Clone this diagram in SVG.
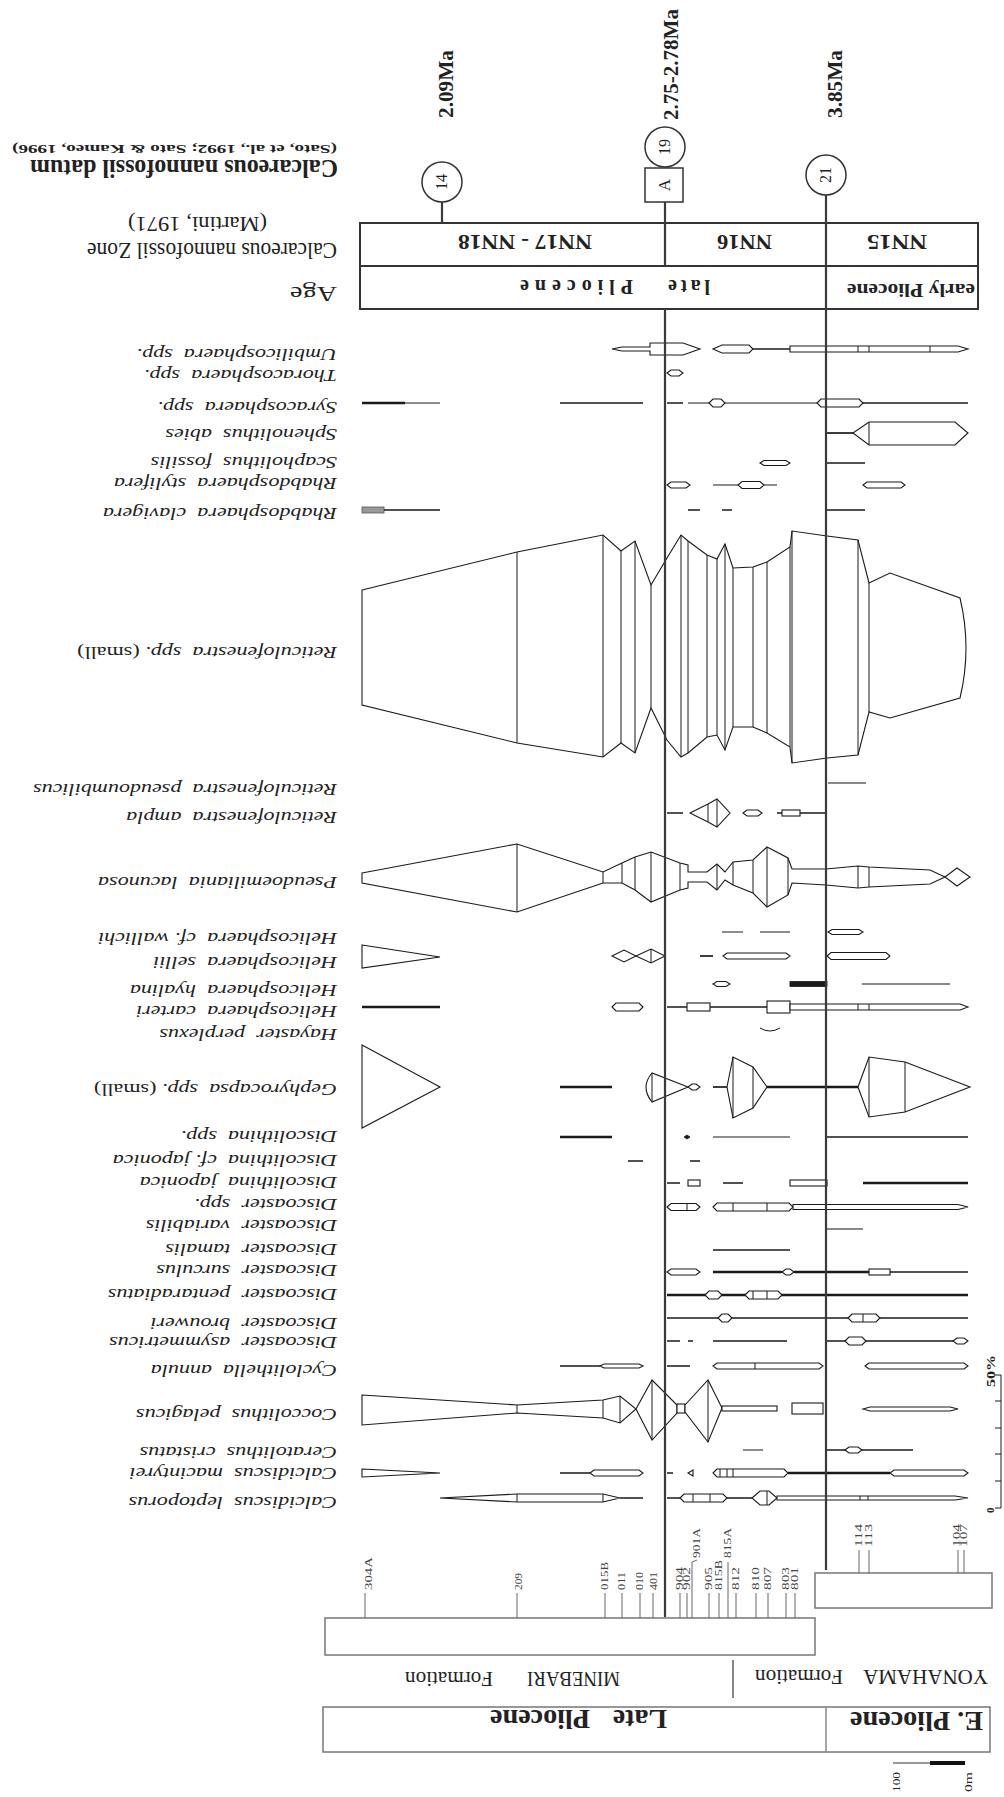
<svg xmlns="http://www.w3.org/2000/svg" width="1004" height="1797" viewBox="0 0 1004 1797">
<style>
.o{fill:#fff;stroke:#1a1a1a;stroke-width:1.1}
.k{fill:none;stroke:#1a1a1a;stroke-width:1.7}
.kk{fill:none;stroke:#1a1a1a;stroke-width:2.5}
.n{fill:none;stroke:#1a1a1a;stroke-width:1}
.gr{fill:none;stroke:#888;stroke-width:1.8}
.f{fill:#1a1a1a;stroke:#1a1a1a;stroke-width:0.8}
.lab{font-family:"Liberation Serif",serif;font-style:italic;font-size:16px;fill:#222}
.hd{font-family:"Liberation Serif",serif;fill:#222}
.b{font-weight:bold}
.dl{stroke:#3a3a3a;stroke-width:2.2;fill:none}
.box{fill:#fff;stroke:#333;stroke-width:2}
.gb{fill:#fff;stroke:#777;stroke-width:1.5}
.tk{stroke:#666;stroke-width:1;fill:none}
.sn{font-family:"Liberation Serif",serif;font-size:10px;fill:#444}
</style>
<rect x="0" y="0" width="1004" height="1797" fill="#fff"/>

<!-- header -->
<g id="header-titles">
<text class="hd b" font-size="13" transform="translate(337 145) rotate(180)" textLength="325" lengthAdjust="spacingAndGlyphs">(Sato, et al., 1992; Sato &amp; Kameo, 1996)</text>
<text class="hd b" font-size="25" transform="translate(338 160) rotate(180)" textLength="308" lengthAdjust="spacingAndGlyphs">Calcareous nannofossil datum</text>
<text class="hd" font-size="21" transform="translate(267 217) rotate(180)" textLength="139" lengthAdjust="spacingAndGlyphs">(Martini, 1971)</text>
<text class="hd" font-size="23" transform="translate(337 243) rotate(180)" textLength="250" lengthAdjust="spacingAndGlyphs">Calcareous nannofossil Zone</text>
<text class="hd" font-size="20" transform="translate(337 287) rotate(180)" textLength="47" lengthAdjust="spacingAndGlyphs">Age</text>
</g>

<g id="age-zone-table">
<rect class="box" x="360" y="223" width="618" height="86"/>
<line x1="360" y1="266" x2="978" y2="266" stroke="#333" stroke-width="2"/>
<text class="hd b" font-size="22" transform="translate(592 235) rotate(180)" textLength="134" lengthAdjust="spacingAndGlyphs">NN17 - NN18</text>
<text class="hd b" font-size="22" transform="translate(772 235) rotate(180)" textLength="55" lengthAdjust="spacingAndGlyphs">NN16</text>
<text class="hd b" font-size="22" transform="translate(927 235) rotate(180)" textLength="60" lengthAdjust="spacingAndGlyphs">NN15</text>
<text class="hd b" font-size="20" transform="translate(710 280) rotate(180)" textLength="42" lengthAdjust="spacing">late</text>
<text class="hd b" font-size="20" transform="translate(633 280) rotate(180)" textLength="113" lengthAdjust="spacing">Pliocene</text>
<text class="hd b" font-size="18" transform="translate(975 284) rotate(180)" textLength="128" lengthAdjust="spacingAndGlyphs">early Pliocene</text>
</g>

<g id="datum-14">
<circle cx="442" cy="182" r="20" fill="#fff" stroke="#333" stroke-width="1.5"/>
<text class="hd" font-size="16" text-anchor="middle" transform="translate(447 182) rotate(-90)">14</text>
<text class="hd b" font-size="21" transform="translate(453 118) rotate(-90)" textLength="68" lengthAdjust="spacingAndGlyphs">2.09Ma</text>
</g>
<g id="datum-19A">
<circle cx="665" cy="147" r="20" fill="#fff" stroke="#333" stroke-width="1.5"/>
<text class="hd" font-size="16" text-anchor="middle" transform="translate(670 147) rotate(-90)">19</text>
<rect x="645" y="168" width="38" height="34" fill="#fff" stroke="#333" stroke-width="1.5"/>
<text class="hd" font-size="17" text-anchor="middle" transform="translate(670 185) rotate(-90)">A</text>
<text class="hd b" font-size="21" transform="translate(678 120) rotate(-90)" textLength="111" lengthAdjust="spacingAndGlyphs">2.75-2.78Ma</text>
</g>
<g id="datum-21">
<circle cx="826" cy="175" r="20" fill="#fff" stroke="#333" stroke-width="1.5"/>
<text class="hd" font-size="16" text-anchor="middle" transform="translate(831 175) rotate(-90)">21</text>
<text class="hd b" font-size="21" transform="translate(842 118) rotate(-90)" textLength="68" lengthAdjust="spacingAndGlyphs">3.85Ma</text>
</g>

<!-- species rows -->
<g id="sp-umbilicosphaera">
<text class="lab" transform="translate(337 348.5) rotate(180) scale(1.38 1)">Umbilicosphaera&#160; spp.</text>
<path class="o" d="M612 349 L622 347 H650 V343 H683 L700 349 L683 355 H650 V351 H622 Z"/>
<path class="n" d="M665 343V355"/>
<path class="o" d="M713 349 L722 345 H749 L753 349 L749 353 H722 Z"/>
<path class="k" d="M753 349H790"/>
<path class="o" d="M790 346 H958 L968 349 L958 352 H790 Z"/>
<path class="n" d="M858 346V352M869 346V352M930 346V352"/>
</g>
<g id="sp-thoracosphaera">
<text class="lab" transform="translate(337 369.5) rotate(180) scale(1.38 1)">Thoracosphaera&#160; spp.</text>
<path class="o" d="M667 373 L671 370 H679 L683 373 L679 376 H671 Z"/>
</g>
<g id="sp-syracosphaera">
<text class="lab" transform="translate(337 401.5) rotate(180) scale(1.38 1)">Syracosphaera&#160; spp.</text>
<path class="kk" d="M362 403H405"/><path class="n" d="M405 403H440"/>
<path class="k" d="M560 403H643M667 403H683"/>
<path class="n" d="M688 403H817"/>
<path class="o" d="M709 403 L713 399 H721 L725 403 L721 407 H713 Z"/>
<path class="o" d="M817 403 L821 399 H859 L863 403 L859 407 H821 Z"/>
<path class="k" d="M863 403H968"/>
</g>
<g id="sp-sphenolithus">
<text class="lab" transform="translate(337 428.5) rotate(180) scale(1.38 1)">Sphenolithus&#160; abies</text>
<path class="k" d="M826 433H853"/>
<path class="o" d="M853 433 L869 422 H955 L968 433 L955 445 H869 Z"/>
<path class="n" d="M869 422V445"/>
</g>
<g id="sp-scapholithus">
<text class="lab" transform="translate(337 456.5) rotate(180) scale(1.38 1)">Scapholithus&#160; fossilis</text>
<path class="o" d="M760 463 L764 460.5 H786 L790 463 L786 465.5 H764 Z"/>
<path class="k" d="M826 463H865"/>
</g>
<g id="sp-rh-stylifera">
<text class="lab" transform="translate(337 477.5) rotate(180) scale(1.38 1)">Rhabdosphaera&#160; stylifera</text>
<path class="o" d="M667 485 L671 482 H686 L690 485 L686 488 H671 Z"/>
<path class="n" d="M713 485H777"/>
<path class="o" d="M738 485 L742 481.5 H760 L764 485 L760 488.5 H742 Z"/>
<path class="o" d="M863 485 L867 482 H901 L905 485 L901 488 H867 Z"/>
</g>
<g id="sp-rh-clavigera">
<text class="lab" transform="translate(337 507.5) rotate(180) scale(1.38 1)">Rhabdosphaera&#160; clavigera</text>
<rect x="362" y="507" width="22" height="6" fill="#999" stroke="#555" stroke-width="0.8"/>
<path class="k" d="M384 510H440M688 510H700M722 510H732M826 510H865"/>
</g>
<g id="sp-reticulofenestra-small">
<text class="lab" transform="translate(337 646.5) rotate(180) scale(1.38 1)">Reticulofenestra&#160; spp. <tspan font-style="normal">(small)</tspan></text>
<path class="o" d="M362 590 L517 552 L603 535 L621 551 L635 541 L651 585 L667 558 L681 535 L688 541 L707 555 L717 559 L725 544 L733 568 L753 567 L767 562 L790 547 L792 531 L827 536 L858 540 L869 583 L890 573 L960 598 Q972 648 960 698 L890 718 L869 712 L858 755 L827 758 L792 763 L790 747 L767 733 L753 727 L733 727 L725 750 L717 735 L707 737 L688 753 L681 757 L667 740 L651 708 L635 753 L621 743 L603 757 L517 743 L362 705 Z"/>
<path class="n" d="M517 552V743M603 535V757M621 551V743M635 541V753M651 585V708M681 535V757M688 541V753M707 555V737M717 559V735M725 544V750M733 568V727M753 567V727M767 562V733M790 547V747M792 531V763M858 540V755M869 583V712"/>
</g>
<g id="sp-r-pseudoumbilicus">
<text class="lab" transform="translate(337 783.5) rotate(180) scale(1.38 1)">Reticulofenestra&#160; pseudoumbilicus</text>
<path class="gr" d="M828 783H866"/>
</g>
<g id="sp-r-ampla">
<text class="lab" transform="translate(337 811.5) rotate(180) scale(1.38 1)">Reticulofenestra&#160; ampla</text>
<path class="k" d="M667 813H683M777 813H826"/>
<path class="o" d="M690 813 L708 804 L717 799 L730 813 L717 827 L708 822 Z"/>
<path class="n" d="M708 804V822M717 799V827"/>
<path class="o" d="M743 813 L747 810 H758 L762 813 L758 816 H747 Z"/>
<rect class="o" x="782" y="810" width="18" height="6"/>
</g>
<g id="sp-pseudoemiliania">
<text class="lab" transform="translate(337 876.5) rotate(180) scale(1.38 1)">Pseudoemiliania&#160; lacunosa</text>
<path class="o" d="M362 873 L517 844 L603 872 L622 863 L635 857 L651 852 L680 863 L688 865 L688 872 L707 872 L717 864 L725 872 L733 862 L753 860 L767 847 L788 858 L792 869 L826 869 L858 866 L869 867 L930 870 L945 877 L930 884 L869 887 L858 888 L826 885 L792 883 L788 895 L767 907 L753 893 L733 885 L725 880 L717 890 L707 882 L688 882 L688 888 L680 890 L651 902 L635 890 L622 883 L603 883 L517 912 L362 883 Z"/>
<path class="n" d="M517 844V912M603 872V883M622 863V883M635 857V890M651 852V902M680 863V890M717 864V890M733 862V885M753 860V893M767 847V907M788 858V895M858 866V888M869 867V887"/>
<path class="o" d="M945 877 L957 868 L970 877 L957 886 Z"/>
</g>
<g id="sp-h-wallichi">
<text class="lab" transform="translate(337 932.5) rotate(180) scale(1.38 1)">Helicosphaera&#160; cf. wallichi</text>
<path class="n" d="M722 932H743M760 932H790"/>
<path class="o" d="M828 932 L832 929.5 H859 L863 932 L859 934.5 H832 Z"/>
</g>
<g id="sp-h-sellii">
<text class="lab" transform="translate(337 956.5) rotate(180) scale(1.38 1)">Helicosphaera&#160; sellii</text>
<path class="o" d="M362 945 L440 957 L362 968 Z"/>
<path class="o" d="M612 956 L624 950 L636 956 L624 962 Z"/>
<path class="o" d="M636 956 L651 949 L665 956 L651 963 Z"/>
<path class="n" d="M651 949V963"/>
<path class="k" d="M700 956H713"/>
<path class="o" d="M723 956 L727 953 H786 L790 956 L786 959 H727 Z"/>
<path class="o" d="M827 956 L831 952.5 H886 L890 956 L886 959.5 H831 Z"/>
</g>
<g id="sp-h-hyalina">
<text class="lab" transform="translate(337 984.5) rotate(180) scale(1.38 1)">Helicosphaera&#160; hyalina</text>
<path class="o" d="M713 984 L717 981.5 H726 L730 984 L726 986.5 H717 Z"/>
<rect class="f" x="790" y="981.5" width="37" height="5"/>
<path class="gr" d="M862 984H950"/>
</g>
<g id="sp-h-carteri">
<text class="lab" transform="translate(337 1005.5) rotate(180) scale(1.38 1)">Helicosphaera&#160; carteri</text>
<path class="kk" d="M362 1007H440"/>
<path class="o" d="M612 1007 L616 1003 H639 L643 1007 L639 1011 H616 Z"/>
<path class="k" d="M667 1007H687M710 1007H767"/>
<rect class="o" x="687" y="1003" width="23" height="8"/>
<rect class="o" x="767" y="1001" width="23" height="12"/>
<path class="o" d="M790 1004 H960 L968 1007 L960 1010 H790 Z"/>
<path class="n" d="M858 1004V1010M869 1004V1010"/>
</g>
<g id="sp-hayaster">
<text class="lab" transform="translate(337 1028.5) rotate(180) scale(1.38 1)">Hayaster&#160; perplexus</text>
<path class="n" d="M760 1028 Q770 1034 780 1028"/>
</g>
<g id="sp-gephyrocapsa">
<text class="lab" transform="translate(337 1083.5) rotate(180) scale(1.38 1)">Gephyrocapsa&#160; spp. <tspan font-style="normal">(small)</tspan></text>
<path class="o" d="M362 1045 L440 1087 L362 1128 Z"/>
<path class="kk" d="M560 1087H612M767 1087H858"/>
<path class="o" d="M688 1087 L652 1073 Q640 1087 652 1102 Z"/>
<path class="n" d="M652 1073V1102"/>
<path class="o" d="M688 1087 L692 1084 H696 L700 1087 L696 1090 H692 Z"/>
<path class="k" d="M713 1087H727"/>
<path class="o" d="M727 1087 L733 1057 L753 1067 L767 1087 L753 1108 L733 1118 Z"/>
<path class="n" d="M733 1057V1118M753 1067V1108"/>
<path class="o" d="M858 1087 L869 1057 L905 1062 L970 1087 L905 1112 L869 1117 Z"/>
<path class="n" d="M869 1057V1117M905 1062V1112"/>
</g>
<g id="sp-discolithina-spp">
<text class="lab" transform="translate(337 1130.5) rotate(180) scale(1.38 1)">Discolithina&#160; spp.</text>
<path class="kk" d="M560 1137H612"/>
<path class="f" d="M684 1137 L687 1135 L690 1137 L687 1139 Z"/>
<path class="n" d="M713 1137H790"/>
<path class="k" d="M826 1137H968"/>
</g>
<g id="sp-discolithina-cf-japonica">
<text class="lab" transform="translate(337 1154.5) rotate(180) scale(1.38 1)">Discolithina&#160; cf. japonica</text>
<path class="k" d="M628 1161H643M690 1161H700"/>
</g>
<g id="sp-discolithina-japonica">
<text class="lab" transform="translate(337 1176.5) rotate(180) scale(1.38 1)">Discolithina&#160; japonica</text>
<path class="k" d="M667 1183H680M723 1183H743"/>
<rect class="o" x="688" y="1180" width="12" height="6"/>
<rect class="o" x="790" y="1180" width="37" height="6"/>
<path class="kk" d="M863 1183H968"/>
</g>
<g id="sp-discoaster-spp">
<text class="lab" transform="translate(337 1198.5) rotate(180) scale(1.38 1)">Discoaster&#160; spp.</text>
<path class="o" d="M667 1207 L671 1203.5 H696 L700 1207 L696 1210.5 H671 Z"/>
<path class="n" d="M687 1203.5V1210.5"/>
<path class="o" d="M713 1207 L717 1203 H789 L793 1207 L789 1211 H717 Z"/>
<path class="n" d="M733 1203V1211M767 1203V1211"/>
<path class="o" d="M793 1204.5 H958 L968 1207 L958 1209.5 H793 Z"/>
</g>
<g id="sp-d-variabilis">
<text class="lab" transform="translate(337 1219.5) rotate(180) scale(1.38 1)">Discoaster&#160; variabilis</text>
<path class="gr" d="M827 1229H863"/>
</g>
<g id="sp-d-tamalis">
<text class="lab" transform="translate(337 1243.5) rotate(180) scale(1.38 1)">Discoaster&#160; tamalis</text>
<path class="k" d="M713 1250H790"/>
</g>
<g id="sp-d-surculus">
<text class="lab" transform="translate(337 1264.5) rotate(180) scale(1.38 1)">Discoaster&#160; surculus</text>
<path class="o" d="M667 1272 L671 1269 H696 L700 1272 L696 1275 H671 Z"/>
<path class="kk" d="M713 1272H782M794 1272H869"/>
<path class="o" d="M782 1272 L786 1269 H790 L794 1272 L790 1275 H786 Z"/>
<rect class="o" x="869" y="1269" width="21" height="6"/>
<path class="k" d="M890 1272H968"/>
</g>
<g id="sp-d-pentaradiatus">
<text class="lab" transform="translate(337 1288.5) rotate(180) scale(1.38 1)">Discoaster&#160; pentaradiatus</text>
<path class="kk" d="M667 1295H968"/>
<path class="o" d="M705 1295 L709 1291 H718 L722 1295 L718 1299 H709 Z"/>
<path class="o" d="M745 1295 L749 1291 H778 L782 1295 L778 1299 H749 Z"/>
<path class="n" d="M753 1291V1299M767 1291V1299"/>
</g>
<g id="sp-d-brouweri">
<text class="lab" transform="translate(337 1317.5) rotate(180) scale(1.38 1)">Discoaster&#160; brouweri</text>
<path class="k" d="M667 1318H968"/>
<path class="o" d="M718 1318 L722 1314 H728 L732 1318 L728 1322 H722 Z"/>
<path class="o" d="M848 1318 L852 1314 H876 L880 1318 L876 1322 H852 Z"/>
<path class="n" d="M863 1314V1322"/>
</g>
<g id="sp-d-asymmetricus">
<text class="lab" transform="translate(337 1336.5) rotate(180) scale(1.38 1)">Discoaster&#160; asymmetricus</text>
<path class="k" d="M667 1341H680M688 1341H693M713 1341H787M826 1341H968"/>
<path class="o" d="M845 1341 L849 1337 H862 L866 1341 L862 1345 H849 Z"/>
<path class="o" d="M953 1341 L957 1338 H964 L968 1341 L964 1344 H957 Z"/>
</g>
<g id="sp-cyclolithella">
<text class="lab" transform="translate(337 1364.5) rotate(180) scale(1.38 1)">Cyclolithella&#160; annula</text>
<path class="k" d="M560 1366H600M667 1366H690"/>
<path class="o" d="M600 1366 L604 1364 H639 L643 1366 L639 1368 H604 Z"/>
<path class="o" d="M713 1366 L717 1363 H819 L823 1366 L819 1369 H717 Z"/>
<path class="n" d="M755 1363V1369"/>
<path class="o" d="M865 1366 L869 1363 H964 L968 1366 L964 1369 H869 Z"/>
</g>
<g id="sp-coccolithus">
<text class="lab" transform="translate(337 1408.5) rotate(180) scale(1.38 1)">Coccolithus&#160; pelagicus</text>
<path class="o" d="M362 1395 L517 1405 L603 1400 L620 1396 L636 1409 L620 1423 L603 1418 L517 1413 L362 1425 Z"/>
<path class="n" d="M517 1405V1413M603 1400V1418M620 1396V1423"/>
<path class="o" d="M636 1409 L652 1380 L677 1405 L677 1413 L652 1440 Z"/>
<path class="n" d="M652 1380V1440"/>
<rect class="o" x="677" y="1404" width="8" height="9"/>
<path class="o" d="M685 1405 L708 1380 L722 1408 L708 1442 L685 1412 Z"/>
<path class="n" d="M708 1380V1442"/>
<rect class="o" x="722" y="1406" width="55" height="5"/>
<rect class="o" x="792" y="1403" width="31" height="11"/>
<path class="o" d="M863 1409 L870 1407 H950 L958 1409 L950 1411 H870 Z"/>
</g>
<g id="sp-ceratolithus">
<text class="lab" transform="translate(337 1446.5) rotate(180) scale(1.38 1)">Ceratolithus&#160; cristatus</text>
<path class="n" d="M743 1450H763"/>
<path class="k" d="M826 1450H913"/>
<path class="o" d="M845 1450 L849 1447 H858 L862 1450 L858 1453 H849 Z"/>
</g>
<g id="sp-c-macintyrei">
<text class="lab" transform="translate(337 1467.5) rotate(180) scale(1.38 1)">Calcidiscus&#160; macintyrei</text>
<path class="o" d="M362 1469 L440 1473 L362 1477 Z"/>
<path class="k" d="M560 1473H590M667 1473H673"/>
<path class="o" d="M590 1473 L594 1470 H639 L643 1473 L639 1476 H594 Z"/>
<path class="o" d="M688 1473 L693 1470 V1476 Z"/>
<path class="o" d="M713 1473 L717 1469 H784 L788 1473 L784 1477 H717 Z"/>
<path class="n" d="M720 1469V1477M727 1469V1477M733 1469V1477"/>
<path class="kk" d="M788 1473H890"/>
<path class="o" d="M890 1473 L894 1470 H964 L968 1473 L964 1476 H894 Z"/>
</g>
<g id="sp-c-leptoporus">
<text class="lab" transform="translate(337 1496.5) rotate(180) scale(1.38 1)">Calcidiscus&#160; leptoporus</text>
<path class="o" d="M440 1498 L517 1494 H603 L620 1498 L603 1502 H517 Z"/>
<path class="n" d="M517 1494V1502M603 1494V1502"/>
<path class="k" d="M620 1498H643M667 1498H680M727 1498H752"/>
<path class="o" d="M680 1498 L684 1494 H723 L727 1498 L723 1502 H684 Z"/>
<path class="n" d="M693 1494V1502M710 1494V1502"/>
<path class="o" d="M752 1498 L760 1491 H769 L777 1498 L769 1505 H760 Z"/>
<path class="n" d="M767 1491V1505"/>
<path class="o" d="M777 1496 H955 L968 1498 L955 1500 H777 Z"/>
<path class="n" d="M860 1496V1500M868 1496V1500"/>
</g>

<!-- percentage ruler -->
<g id="ruler">
<path class="n" d="M1001 1375V1508M995 1375H1001M995 1401H1001M995 1428H1001M995 1454H1001M995 1481H1001M995 1508H1001"/>
<text class="hd b" font-size="12" transform="translate(995 1387) rotate(-90)" textLength="32" lengthAdjust="spacingAndGlyphs">50%</text>
<text class="hd b" font-size="11" transform="translate(994 1513) rotate(-90)">0</text>
</g>

<!-- sample boxes -->
<g id="minebari-samples">
<rect class="gb" x="325" y="1618" width="490" height="37"/>
<g class="sn">
<text transform="translate(372 1590) rotate(-90)" textLength="33" lengthAdjust="spacingAndGlyphs">304A</text>
<text transform="translate(522 1590) rotate(-90)" textLength="17" lengthAdjust="spacingAndGlyphs">209</text>
<text transform="translate(608 1590) rotate(-90)" textLength="28" lengthAdjust="spacingAndGlyphs">015B</text>
<text transform="translate(625 1590) rotate(-90)" textLength="18" lengthAdjust="spacingAndGlyphs">011</text>
<text transform="translate(643 1590) rotate(-90)" textLength="18" lengthAdjust="spacingAndGlyphs">010</text>
<text transform="translate(657 1590) rotate(-90)" textLength="18" lengthAdjust="spacingAndGlyphs">401</text>
<text transform="translate(683 1590) rotate(-90)" textLength="23" lengthAdjust="spacingAndGlyphs">904</text>
<text transform="translate(690 1590) rotate(-90)" textLength="23" lengthAdjust="spacingAndGlyphs">902</text>
<text transform="translate(700 1558) rotate(-90)" textLength="30" lengthAdjust="spacingAndGlyphs">901A</text>
<text transform="translate(712 1590) rotate(-90)" textLength="23" lengthAdjust="spacingAndGlyphs">905</text>
<text transform="translate(722 1590) rotate(-90)" textLength="30" lengthAdjust="spacingAndGlyphs">815B</text>
<text transform="translate(731 1558) rotate(-90)" textLength="30" lengthAdjust="spacingAndGlyphs">815A</text>
<text transform="translate(739 1590) rotate(-90)" textLength="23" lengthAdjust="spacingAndGlyphs">812</text>
<text transform="translate(759 1590) rotate(-90)" textLength="23" lengthAdjust="spacingAndGlyphs">810</text>
<text transform="translate(771 1590) rotate(-90)" textLength="23" lengthAdjust="spacingAndGlyphs">807</text>
<text transform="translate(789 1590) rotate(-90)" textLength="23" lengthAdjust="spacingAndGlyphs">803</text>
<text transform="translate(798 1590) rotate(-90)" textLength="23" lengthAdjust="spacingAndGlyphs">801</text>
</g>
</g>
<g id="yonahama-samples">
<rect class="gb" x="815" y="1573" width="177" height="35"/>
<g class="sn">
<text transform="translate(862 1547) rotate(-90)" textLength="23" lengthAdjust="spacingAndGlyphs">114</text>
<text transform="translate(872 1547) rotate(-90)" textLength="23" lengthAdjust="spacingAndGlyphs">113</text>
<text transform="translate(960 1547) rotate(-90)" textLength="23" lengthAdjust="spacingAndGlyphs">104</text>
<text transform="translate(967 1547) rotate(-90)" textLength="23" lengthAdjust="spacingAndGlyphs">107</text>
</g>
</g>

<g id="formations">
<text class="hd" font-size="22" transform="translate(620 1672) rotate(180)" textLength="93" lengthAdjust="spacingAndGlyphs">MINEBARI</text>
<text class="hd" font-size="22" transform="translate(493 1672) rotate(180)" textLength="88" lengthAdjust="spacingAndGlyphs">Formation</text>
<text class="hd" font-size="22" transform="translate(988 1670) rotate(180)" textLength="125" lengthAdjust="spacingAndGlyphs">YONAHAMA</text>
<text class="hd" font-size="22" transform="translate(843 1670) rotate(180)" textLength="88" lengthAdjust="spacingAndGlyphs">Formation</text>
<line x1="733" y1="1660" x2="733" y2="1698" stroke="#888" stroke-width="2"/>
</g>

<g id="epoch-bottom">
<rect class="gb" x="323" y="1707" width="667" height="45"/>
<line x1="826" y1="1707" x2="826" y2="1752" stroke="#888" stroke-width="1.5"/>
<text class="hd b" font-size="28" transform="translate(667 1710) rotate(180)" textLength="54" lengthAdjust="spacingAndGlyphs">Late</text>
<text class="hd b" font-size="28" transform="translate(590 1710) rotate(180)" textLength="100" lengthAdjust="spacingAndGlyphs">Pliocene</text>
<text class="hd b" font-size="28" transform="translate(983 1712) rotate(180)" textLength="133" lengthAdjust="spacingAndGlyphs">E. Pliocene</text>
</g>

<g id="scale-bar">
<line x1="893" y1="1763" x2="930" y2="1763" stroke="#999" stroke-width="2"/>
<line x1="930" y1="1763" x2="965" y2="1763" stroke="#111" stroke-width="4"/>
<text class="hd" font-size="11" transform="translate(900 1792) rotate(-90)" textLength="20" lengthAdjust="spacingAndGlyphs">100</text>
<text class="hd" font-size="11" transform="translate(972 1792) rotate(-90)" textLength="20" lengthAdjust="spacingAndGlyphs">0m</text>
</g>

<!-- connectors: datum lines and sample ticks -->
<g id="connectors">
<path class="dl" d="M442 202V223"/>
<path class="dl" d="M665 202V266M665 309V1617"/>
<path class="dl" d="M826 195V1570"/>
<path class="tk" d="M365 1593V1618M517 1593V1618M605 1593V1618M622 1593V1618M640 1593V1618M653 1593V1618M680 1593V1618M687 1593V1618M692 1618V1562L697 1560M709 1593V1618M719 1593V1618M728 1618V1562M736 1593V1618M756 1593V1618M768 1593V1618M786 1593V1618M795 1593V1618"/>
<path class="tk" d="M859 1550V1573M869 1550V1573M958 1550V1573M964 1550V1573"/>
</g>
</svg>
